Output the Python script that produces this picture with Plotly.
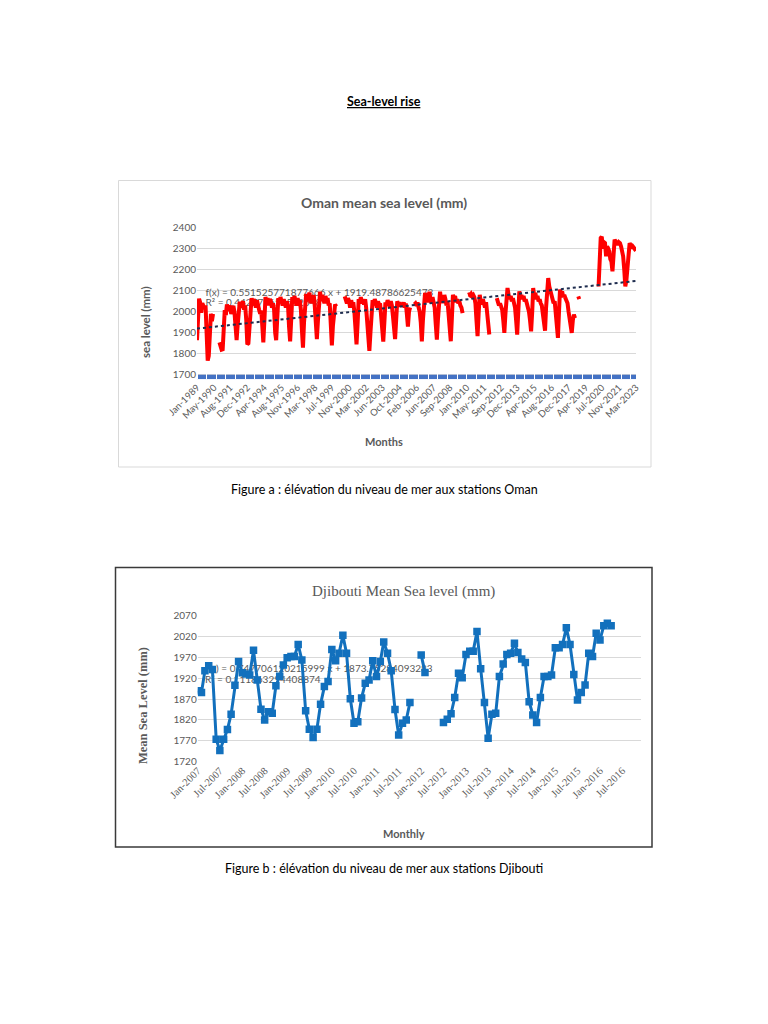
import plotly.graph_objects as go
import pandas as pd

# ---------------- DATA ----------------
# Oman monthly mean sea level (mm), Jan-1989 .. Mar-2023 (None = missing)
oman_level = [
    1865, 1960, 2062, 2045, 1995, 2040, 2030, 2015, 2030, 1905, 1768, 1790,   # 1989
    1915, 1990, 1955, 1990, None, None, None, None, None, 1855, 1835, 1820,   # 1990
    1822, 1905, 2008, 1985, 2035, 2005, 2015, 2030, 1990, 2020, 2028, 2000,   # 1991
    1940, 1866, 1935, 2035, 2048, 2020, 2042, 2050, 2010, 2030, 1960, 1845,   # 1992
    1850, 1950, 2050, 2065, 2030, 2060, 2045, 2020, 2055, 2040, 2010, 1990,   # 1993
    2005, 1930, 1855, 1960, 2070, 2045, 2065, 2030, 2060, 2050, 2020, 2040,   # 1994
    2010, 1900, 1865, 1970, 2065, 2040, 2070, 2050, 2030, 2060, 2045, 2020,   # 1995
    2050, 2030, 1930, 1860, 1960, 2070, 2045, 2075, 2050, 2030, 2065, 2040,   # 1996
    2055, 2010, 1915, 1830, 1950, 2060, 2085, 2050, 2070, 2090, 2040, 2065,   # 1997
    2045, 2080, 2030, 1960, 1870, 1960, 2070, 2095, 2050, 2080, 2060, 2040,   # 1998
    2075, 2050, 2065, 2030, 2040, 1950, 1840, 1935, 2010, 2035, 2025, None,   # 1999
    None, None, None, None, None, None, 2073, 2060, 2040, 2065, 2050, 2020,   # 2000
    2055, 2030, 2045, 2000, 1930, 1845, 1940, 2060, 2045, 2070, 2040, 2055,   # 2001
    2035, 2060, 2020, 1960, 1880, 1815, 1900, 2040, 2055, 2030, 2060, 2045,   # 2002
    2020, 2050, 2035, 2040, 1990, 1920, 1858, 1950, 2045, 2030, 2055, 2040,   # 2003
    2025, 2050, 2030, 1980, 1920, 1870, 1960, 2050, 2035, 2045, 2025, 2040,   # 2004
    2030, 2045, 2020, 2040, 1990, 1930, 2000, 2020, None, None, None, 2035,   # 2005
    2040, 2030, 2045, 2020, 2000, 1950, 1860, 1960, 2060, 2090, 2050, 2075,   # 2006
    2045, 2095, 2060, 2040, 2070, 2050, 2020, 1940, 1868, 1960, 2060, 2095,   # 2007
    2050, 2075, 2040, 2080, 2060, 2030, 2050, 1980, 1920, 1860, 1970, 2080,   # 2008
    2065, 2075, 2045, 2060, 2040, 2050, 2030, 2020, 1994, None, None, None,   # 2009
    None, 2080, 2082, 2078, 2085, 2075, 2080, 2070, 2040, 1960, 1884, 1990,   # 2010
    2080, 2050, 2035, 2060, 2040, 2020, 2045, 2000, 1960, 1892, None, None,   # 2011
    None, None, None, None, 2065, 2045, 2030, 2040, 2025, 2010, 1960, 1900,   # 2012
    1990, 2070, 2113, 2080, 2060, 2075, 2050, 2065, 2040, 2020, 1960, 1892,   # 2013
    2000, 2097, 2070, 2080, 2060, 2075, 2050, 2060, 2040, 2020, 2000, 1960,   # 2014
    1907, 2000, 2113, 2070, 2090, 2060, 2075, 2050, 2060, 2040, 2030, 1990,   # 2015
    1960, 1910, 2020, 2100, 2160, 2120, 2097, 2080, 2060, 2040, 2050, 1990,   # 2016
    1940, 1876, 1990, 2105, 2090, 2097, 2070, 2080, 2065, 2050, 2040, 2000,   # 2017
    1960, 1935, 1900, 1960, 1986, 1970, None, None, 2073, 2060, None, None,   # 2018
    None, None, None, None, None, None, None, None, None, None, None, None,   # 2019
    None, None, None, 2120, 2250, 2350, 2357, 2300, 2330, 2326, 2263, 2310,   # 2020
    2300, 2286, 2250, 2239, 2192, 2280, 2342, 2334, 2320, 2318, 2330, 2326,   # 2021
    2310, 2290, 2263, 2200, 2120, 2150, 2207, 2290, 2326, 2315, 2302, 2310,   # 2022
    2305, 2294, 2290,                                                         # 2023
]
oman_tick_labels = ["Jan-1989", "May-1990", "Aug-1991", "Dec-1992", "Apr-1994", "Aug-1995",
                    "Nov-1996", "Mar-1998", "Jul-1999", "Nov-2000", "Mar-2002", "Jun-2003",
                    "Oct-2004", "Feb-2006", "Jun-2007", "Sep-2008", "Jan-2010", "May-2011",
                    "Sep-2012", "Dec-2013", "Apr-2015", "Aug-2016", "Dec-2017", "Apr-2019",
                    "Jul-2020", "Nov-2021", "Mar-2023"]
oman_y_ticks = [1700, 1800, 1900, 2000, 2100, 2200, 2300, 2400]
oman_baseline_value = 1690          # blue baseline series along the bottom
OMAN_SLOPE = 0.551525771877666
OMAN_INTERCEPT = 1919.48786625473
oman_eq_text = "f(x) = 0.551525771877666 x + 1919.48786625473"
oman_r2_text = "R² = 0.442779652592648"

# Djibouti monthly mean sea level (mm), Jan-2007 .. Apr-2016
dj_level = [
    1890, 1886, 1938, 1950, 1941, 1774, 1747, 1774, 1797, 1834, 1903, 1960,   # 2007
    1933, 1930, 1928, 1987, 1916, 1846, 1820, 1840, 1836, 1902, 1925, 1952,   # 2008
    1969, 1972, 1972, 2001, 1964, 1842, 1798, 1778, 1798, 1858, 1900, 1912,   # 2009
    1989, 1962, 1980, 2023, 1980, 1871, 1812, 1816, 1873, 1908, 1916, 1962,   # 2010
    1924, 1960, 2007, 1980, 1938, 1845, 1784, 1812, 1820, 1862, None, None,   # 2011
    1976, 1934, None, None, None, None, 1814, 1822, 1835, 1874, 1932, 1921,   # 2012
    1977, 1985, 1985, 2032, 1943, 1862, 1776, 1834, 1836, 1924, 1954, 1977,   # 2013
    1980, 2004, 1982, 1966, 1958, 1864, 1832, 1814, 1874, 1924, 1924, 1928,   # 2014
    1993, 1993, 2001, 2041, 2001, 1929, 1868, 1886, 1904, 1980, 1972, 2028,   # 2015
    2012, 2046, 2052, 2046,                                                   # 2016
]
dj_tick_labels = ["Jan-2007", "Jul-2007", "Jan-2008", "Jul-2008", "Jan-2009", "Jul-2009",
                  "Jan-2010", "Jul-2010", "Jan-2011", "Jul-2011", "Jan-2012", "Jul-2012",
                  "Jan-2013", "Jul-2013", "Jan-2014", "Jul-2014", "Jan-2015", "Jul-2015",
                  "Jan-2016", "Jul-2016"]
dj_y_ticks = [1720, 1770, 1820, 1870, 1920, 1970, 2020, 2070]
dj_eq_text = "f(x) = 0.747706120215999 x + 1873.75284093283"
dj_r2_text = "R² = 0.111863294408874"

# ---------------- HELPERS ----------------
W, H = 768, 1024
OFF = 8   # the page body adds an 8 px offset around the figure
def px(x):
    return (x - OFF) / W
def py(y):
    return 1 - (y - OFF) / H

SANS = "Lato, 'Open Sans', sans-serif"
SERIF = "'Liberation Serif', 'DejaVu Serif', serif"
GREY = "#595959"
GRID = "#d9d9d9"

oman_months = pd.date_range("1989-01-01", periods=len(oman_level), freq="MS")
oman_tickvals = pd.to_datetime(oman_tick_labels, format="%b-%Y")
oman_trend = [OMAN_SLOPE * (i + 1) + OMAN_INTERCEPT for i in range(len(oman_level))]
oman_baseline = [oman_baseline_value] * len(oman_level)

dj_months = pd.date_range("2007-01-01", periods=len(dj_level), freq="MS")
dj_tickvals = pd.to_datetime(dj_tick_labels, format="%b-%Y")

fig = go.Figure()

# ---- Oman ----
fig.add_trace(go.Scatter(x=oman_months, y=oman_baseline, mode="lines",
                         line=dict(color="#4472C4", width=4.5),
                         hoverinfo="skip", xaxis="x", yaxis="y"))
fig.add_trace(go.Scatter(x=[oman_months[8], oman_months[8]], y=[2089, 2037],
                         mode="text", text=[oman_eq_text, oman_r2_text],
                         textposition="middle right",
                         textfont=dict(family=SANS, size=10, color=GREY),
                         cliponaxis=False, hoverinfo="skip", xaxis="x", yaxis="y"))
fig.add_trace(go.Scatter(x=oman_months, y=oman_level, mode="lines",
                         line=dict(color="#FF0000", width=4), connectgaps=False,
                         xaxis="x", yaxis="y"))
fig.add_trace(go.Scatter(x=oman_months, y=oman_trend, mode="lines",
                         line=dict(color="#1F2D4F", width=2, dash="dot"),
                         hoverinfo="skip", xaxis="x", yaxis="y"))

# ---- Djibouti ----
fig.add_trace(go.Scatter(x=[dj_months[2], dj_months[2]], y=[1940, 1913.5],
                         mode="text", text=[dj_eq_text, dj_r2_text],
                         textposition="middle right",
                         textfont=dict(family=SANS, size=10, color=GREY),
                         cliponaxis=False, hoverinfo="skip", xaxis="x2", yaxis="y2"))
fig.add_trace(go.Scatter(x=dj_months, y=dj_level, mode="lines+markers",
                         line=dict(color="#1270BD", width=3),
                         marker=dict(symbol="square", size=7.5, color="#1270BD"),
                         connectgaps=False, xaxis="x2", yaxis="y2"))

fig.update_layout(
    template="none",
    width=W, height=H, autosize=False,
    margin=dict(l=0, r=0, t=0, b=0, pad=0, autoexpand=False),
    paper_bgcolor="white", plot_bgcolor="white",
    showlegend=False,
    xaxis=dict(domain=[px(197), px(636)], anchor="y", type="date", automargin=False,
               range=[oman_months[0], oman_months[-1]],
               tickvals=oman_tickvals, ticktext=oman_tick_labels, tickangle=-45,
               tickfont=dict(family=SANS, size=9.5, color=GREY),
               showgrid=False, zeroline=False, showline=False, ticks="",
               minor=dict(ticks="inside", ticklen=5, tickwidth=1, tickcolor="white",
                          dtick="M9", tick0="1989-01-01", showgrid=False)),
    yaxis=dict(domain=[py(379.2), py(227.5)], anchor="x", range=[1680, 2400], automargin=False,
               tickvals=oman_y_ticks, tickfont=dict(family=SANS, size=10, color=GREY),
               showgrid=True, gridcolor=GRID, gridwidth=1, zeroline=False,
               showline=False, ticks=""),
    xaxis2=dict(domain=[px(197.7), px(641)], anchor="y2", type="date", automargin=False,
                range=["2007-01-01", "2016-12-01"],
                tickvals=dj_tickvals, ticktext=dj_tick_labels, tickangle=-45,
                tickfont=dict(family=SERIF, size=10.5, color=GREY),
                showgrid=False, zeroline=False, showline=False, ticks=""),
    yaxis2=dict(domain=[py(761.7), py(615.7)], anchor="x2", range=[1720, 2070], automargin=False,
                tickvals=dj_y_ticks, tickfont=dict(family=SANS, size=10, color=GREY),
                showgrid=True, gridcolor=GRID, gridwidth=1, zeroline=False,
                showline=False, ticks=""),
)

annotations = [
    dict(text="<b><u>Sea-level rise</u></b>", x=px(384), y=py(101),
         font=dict(family=SANS, size=12.5, color="black")),
    dict(text="<b>Oman mean sea level (mm)</b>", x=px(384), y=py(202),
         font=dict(family=SANS, size=14, color=GREY)),
    dict(text="<b>sea level (mm)</b>", x=px(145), y=py(322), textangle=-90,
         font=dict(family=SANS, size=11.5, color=GREY)),
    dict(text="<b>Months</b>", x=px(384), y=py(441),
         font=dict(family=SANS, size=11, color=GREY)),
    dict(text="Figure a : élévation du niveau de mer aux stations Oman", x=px(384), y=py(489),
         font=dict(family=SANS, size=12.5, color="black")),
    dict(text="Djibouti Mean Sea level (mm)", x=px(403), y=py(591),
         font=dict(family=SERIF, size=15, color=GREY)),
    dict(text="<b>Mean Sea Level (mm)</b>", x=px(143), y=py(706), textangle=-90,
         font=dict(family=SERIF, size=12.5, color=GREY)),
    dict(text="<b>Monthly</b>", x=px(404), y=py(833),
         font=dict(family=SANS, size=11, color=GREY)),
    dict(text="Figure b : élévation du niveau de mer aux stations Djibouti", x=px(384), y=py(868),
         font=dict(family=SANS, size=12.5, color="black")),
]
for a in annotations:
    a.update(xref="paper", yref="paper", showarrow=False, xanchor="center", yanchor="middle")
fig.update_layout(annotations=annotations)

fig.update_layout(shapes=[
    dict(type="rect", xref="paper", yref="paper", x0=px(118.5), x1=px(651), y0=py(467), y1=py(180.5),
         line=dict(color=GRID, width=1), fillcolor="rgba(0,0,0,0)", layer="below"),
    dict(type="rect", xref="paper", yref="paper", x0=px(115.5), x1=px(652), y0=py(847), y1=py(567.5),
         line=dict(color="#3a3a3a", width=1.5), fillcolor="rgba(0,0,0,0)", layer="below"),
])

fig.write_html("out.html")
